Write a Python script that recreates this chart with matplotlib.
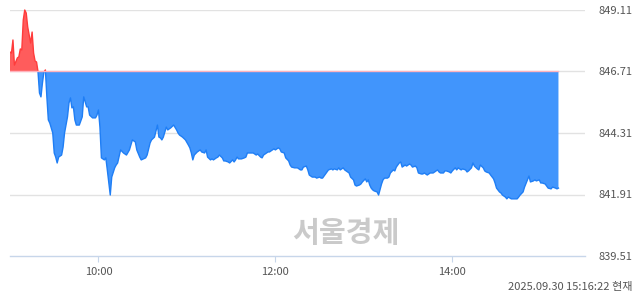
import numpy as np
import matplotlib
matplotlib.use("Agg")
import matplotlib.pyplot as plt
from matplotlib.patches import Rectangle

plt.rcParams['font.family'] = ['Noto Sans CJK KR', 'DejaVu Sans']

# minutes after 09:00 and index value
minutes = [0, 1, 2, 3, 5, 6, 7, 8, 9, 10, 11, 12, 14, 15, 16, 17, 18, 19, 20, 21,
           22, 23, 24, 25, 26, 27, 29, 30, 31, 32, 33, 35, 36, 37, 39, 40, 41, 42, 43, 44,
           45, 47, 49, 50, 52, 53, 54, 56, 58, 59, 60, 61, 62, 64, 65, 66, 68, 69, 71, 72,
           73, 75, 77, 79, 81, 83, 85, 86, 88, 89, 92, 93, 95, 96, 98, 100, 101, 102, 103, 104,
           106, 107, 109, 111, 113, 114, 115, 117, 119, 121, 122, 123, 124, 125, 127, 129, 130, 132, 133, 134,
           136, 137, 138, 140, 141, 142, 144, 145, 146, 148, 149, 151, 152, 153, 154, 155, 156, 157, 159, 160,
           161, 163, 164, 165, 167, 168, 170, 171, 172, 174, 175, 176, 178, 179, 180, 182, 183, 184, 186, 187,
           189, 190, 191, 193, 194, 195, 197, 198, 199, 201, 202, 203, 204, 205, 207, 208, 210, 211, 212, 214,
           215, 216, 218, 219, 220, 222, 223, 224, 226, 227, 229, 230, 231, 233, 234, 235, 237, 238, 239, 241,
           242, 243, 244, 245, 246, 247, 249, 250, 252, 253, 254, 256, 257, 258, 260, 261, 262, 264, 265, 266,
           268, 269, 271, 272, 273, 275, 276, 277, 279, 280, 281, 283, 284, 285, 287, 288, 290, 291, 292, 294,
           295, 296, 298, 299, 300, 302, 303, 304, 306, 307, 309, 310, 311, 313, 314, 315, 317, 318, 319, 321,
           322, 323, 325, 326, 328, 329, 330, 332, 333, 334, 336, 337, 338, 340, 341, 342, 344, 345, 346, 348,
           349, 351, 352, 353, 355, 356, 357, 359, 360, 361, 363, 364, 365, 367, 368, 370, 371, 372]
values = [847.47, 847.43, 847.94, 846.96, 847.24, 847.28, 847.59, 847.55, 848.72, 849.11,
          848.99, 848.45, 847.82, 848.25, 847.43, 847.12, 847.08, 846.70, 845.87, 845.72,
          846.26, 846.69, 846.77, 845.72, 844.82, 844.70, 844.31, 843.53, 843.37, 843.14,
          843.37, 843.45, 843.76, 844.31, 844.94, 845.48, 845.68, 845.29, 845.33, 844.82,
          844.62, 844.62, 844.94, 845.72, 845.33, 845.33, 845.01, 844.90, 844.90, 845.01,
          845.21, 844.54, 843.34, 843.26, 843.34, 842.87, 841.89, 842.59, 842.95, 843.06,
          843.14, 843.65, 843.53, 843.45, 843.65, 844.04, 843.96, 843.65, 843.37, 843.26,
          843.34, 843.45, 843.92, 844.04, 844.15, 844.62, 844.15, 844.12, 844.04, 844.15,
          844.54, 844.43, 844.51, 844.62, 844.43, 844.31, 844.23, 844.15, 844.04, 843.84,
          843.73, 843.53, 843.26, 843.45, 843.57, 843.65, 843.57, 843.53, 843.65, 843.37,
          843.26, 843.30, 843.26, 843.34, 843.37, 843.45, 843.34, 843.22, 843.22, 843.18,
          843.14, 843.26, 843.18, 843.26, 843.37, 843.30, 843.30, 843.30, 843.34, 843.37,
          843.53, 843.53, 843.53, 843.53, 843.45, 843.49, 843.37, 843.34, 843.45, 843.53,
          843.57, 843.57, 843.65, 843.69, 843.65, 843.73, 843.69, 843.57, 843.53, 843.34,
          843.22, 843.06, 842.98, 842.95, 842.95, 842.95, 842.87, 842.87, 842.98, 843.02,
          842.87, 842.67, 842.63, 842.59, 842.59, 842.55, 842.59, 842.55, 842.55, 842.71,
          842.79, 842.87, 842.91, 842.87, 842.91, 842.87, 842.95, 842.87, 842.95, 842.87,
          842.79, 842.75, 842.59, 842.48, 842.28, 842.24, 842.28, 842.32, 842.40, 842.52,
          842.40, 842.48, 842.28, 842.16, 842.09, 842.05, 842.01, 841.89, 842.32, 842.48,
          842.55, 842.55, 842.59, 842.75, 842.87, 842.83, 842.98, 843.14, 843.18, 842.98,
          843.06, 843.02, 843.10, 843.06, 842.98, 843.02, 842.95, 842.75, 842.71, 842.71,
          842.75, 842.67, 842.71, 842.75, 842.75, 842.79, 842.87, 842.79, 842.75, 842.75,
          842.83, 842.83, 842.79, 842.75, 842.83, 842.95, 842.87, 842.95, 842.87, 842.91,
          842.87, 842.79, 842.83, 842.95, 843.14, 843.02, 842.91, 842.87, 843.06, 842.95,
          842.83, 842.79, 842.75, 842.67, 842.52, 842.36, 842.16, 842.01, 841.97, 841.89,
          841.81, 841.74, 841.81, 841.74, 841.74, 841.74, 841.74, 841.81, 841.89, 842.01,
          842.20, 842.48, 842.63, 842.40, 842.44, 842.48, 842.44, 842.48, 842.36, 842.36,
          842.32, 842.24, 842.16, 842.13, 842.20, 842.16, 842.13, 842.16]

prev_close = 846.71
y_ticks = [839.51, 841.91, 844.31, 846.71, 849.11]
x_ticks = [60, 180, 300]
x_labels = ["10:00", "12:00", "14:00"]
stamp = "2025.09.30 15:16:22 현재"
watermark = "서울경제"

x = np.array(minutes)
y = np.array(values)

fig = plt.figure(figsize=(6.4, 2.94), dpi=100)
ax = fig.add_axes([10 / 640, 1 - 256 / 294, 575 / 640, 246 / 294])
ax.set_xlim(0, 390)
ax.set_ylim(y_ticks[0], y_ticks[-1])

for t in y_ticks[1:]:
    ax.axhline(t, color="#e2e2e2", lw=1, zorder=0)

ax.fill_between(x, y, prev_close, where=y >= prev_close, interpolate=True,
                color="#ff5c5c", lw=0, zorder=2)
ax.fill_between(x, y, prev_close, where=y <= prev_close, interpolate=True,
                color="#4195fc", lw=0, zorder=2)

up, = ax.plot(x, y, color="#ff3b3b", lw=1, zorder=3)
down, = ax.plot(x, y, color="#1f7ef5", lw=1, zorder=3)
up.set_clip_path(Rectangle((0, prev_close), 390, 10, transform=ax.transData))
down.set_clip_path(Rectangle((0, 830), 390, prev_close - 830, transform=ax.transData))
ax.plot([0, x[-1]], [prev_close, prev_close], color="#ffb3bd", lw=1, zorder=3)

for s in ["top", "left", "right"]:
    ax.spines[s].set_visible(False)
ax.spines["bottom"].set_color("#c7d6ea")
ax.spines["bottom"].set_linewidth(1)

ax.set_xticks(x_ticks)
ax.set_xticklabels(x_labels)
ax.tick_params(axis="x", length=4, color="#c7d6ea", labelsize=8, labelcolor="#555555", pad=4)
ax.yaxis.tick_right()
ax.set_yticks(y_ticks)
ax.set_yticklabels([f"{v:.2f}" for v in y_ticks])
ax.tick_params(axis="y", length=0, labelsize=8, labelcolor="#555555", pad=10)

ax.text(0.584, 0.093, watermark, transform=ax.transAxes, ha="center", va="center",
        fontsize=21, fontweight="bold", color="#cacaca", zorder=1)
fig.text(632 / 640, 1 - 287 / 294, stamp, ha="right", va="center",
         fontsize=8, color="#555555")

fig.savefig("out.png", dpi=100)
